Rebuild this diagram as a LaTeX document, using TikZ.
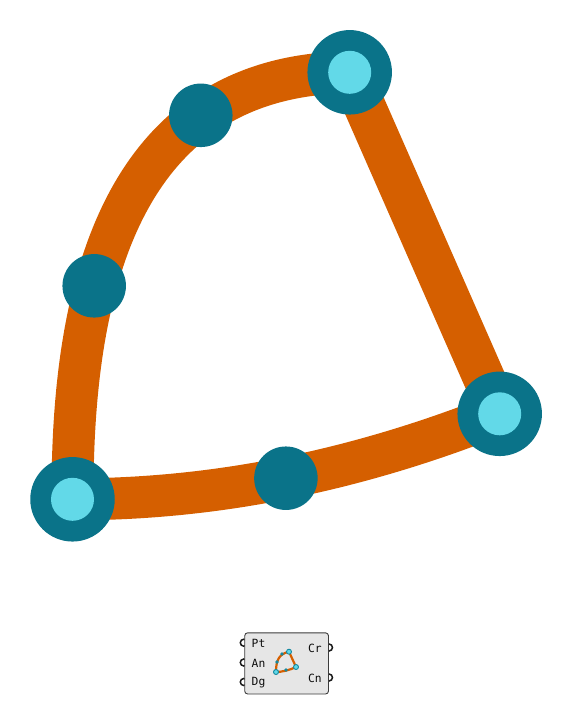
\documentclass[tikz,border=0pt]{standalone}
\usepackage{fontspec}
\setmonofont{DejaVu Sans Mono}
\definecolor{edgeorange}{HTML}{D55F00}
\definecolor{teal}{HTML}{0A7389}
\definecolor{lightcyan}{HTML}{62D9E8}
\definecolor{compfill}{HTML}{E6E6E6}
\definecolor{compline}{HTML}{3C3C3C}
\definecolor{icondot}{HTML}{1488A0}
\tikzset{
  bigedge/.style={draw=edgeorange,line width=42pt,line join=round},
  corner/.style={circle,fill=teal,minimum size=84.5pt,inner sep=0pt},
  cornerin/.style={circle,fill=lightcyan,minimum size=43pt,inner sep=0pt},
  midpt/.style={circle,fill=teal,minimum size=63.5pt,inner sep=0pt},
  compbox/.style={draw=compline,fill=compfill,line width=0.9pt,rounded corners=3pt},
  portl/.style={circle,draw=black!90,fill=white,line width=1.5pt,minimum size=7pt,inner sep=0pt},
  lbl/.style={font=\ttfamily\fontsize{11.3}{13}\selectfont,text=black!95,inner sep=0pt},
  smalledge/.style={draw=edgeorange,line width=2.2pt},
  smallcorner/.style={circle,fill=lightcyan,draw=icondot,line width=0.9pt,minimum size=5pt,inner sep=0pt},
  smallmid/.style={circle,fill=icondot,minimum size=3.8pt,inner sep=0pt},
}
\begin{document}
\begin{tikzpicture}[x=1pt,y=-1pt]
\useasboundingbox (0,0) rectangle (572,724);
\coordinate (A) at (72.5,499.3);
\coordinate (B) at (349.7,72.3);
\coordinate (C) at (499.7,413.8);
\draw[bigedge] (A) .. controls (72,320) and (105,75) .. (B);
\draw[bigedge] (B) -- (C);
\draw[bigedge] (C) .. controls (356.5,471) and (214.5,499.5) .. (A);
\node[midpt] (m1) at (94.2,285.8) {};
\node[midpt] (m2) at (200.8,115.3) {};
\node[midpt] (m3) at (285.9,478.2) {};
\node[corner] (na) at (A) {};
\node[corner] (nb) at (B) {};
\node[corner] (nc) at (C) {};
\node[cornerin] (ka) at (A) {};
\node[cornerin] (kb) at (B) {};
\node[cornerin] (kc) at (C) {};
% component
\node[portl] (p1) at (243.8,642.7) {};
\node[portl] (p2) at (243.8,662.5) {};
\node[portl] (p3) at (243.8,682) {};
\node[portl] (p4) at (329,647.5) {};
\node[portl] (p5) at (329,677.5) {};
\filldraw[compbox] (244.7,632.8) rectangle (328.5,694);
\node[lbl,anchor=west] (pt) at (251.5,643) {Pt};
\node[lbl,anchor=west] (an) at (251.5,663) {An};
\node[lbl,anchor=west] (dg) at (251.5,683) {Dg};
\node[lbl,anchor=east] (cr) at (322,648) {Cr};
\node[lbl,anchor=east] (cn) at (322,678) {Cn};
% icon
\coordinate (ia) at (276,672);
\coordinate (ib) at (289,651.7);
\coordinate (ic) at (296,667);
\draw[smalledge] (ia) .. controls (276,662) and (278,654) .. (ib);
\draw[smalledge] (ib) -- (ic);
\draw[smalledge] (ic) .. controls (290,670) and (282,672) .. (ia);
\node[smallmid] (i1) at (277,662) {};
\node[smallmid] (i2) at (282,654) {};
\node[smallmid] (i3) at (286,670) {};
\node[smallcorner] (ina) at (ia) {};
\node[smallcorner] (inb) at (ib) {};
\node[smallcorner] (inc) at (ic) {};
\end{tikzpicture}
\end{document}
